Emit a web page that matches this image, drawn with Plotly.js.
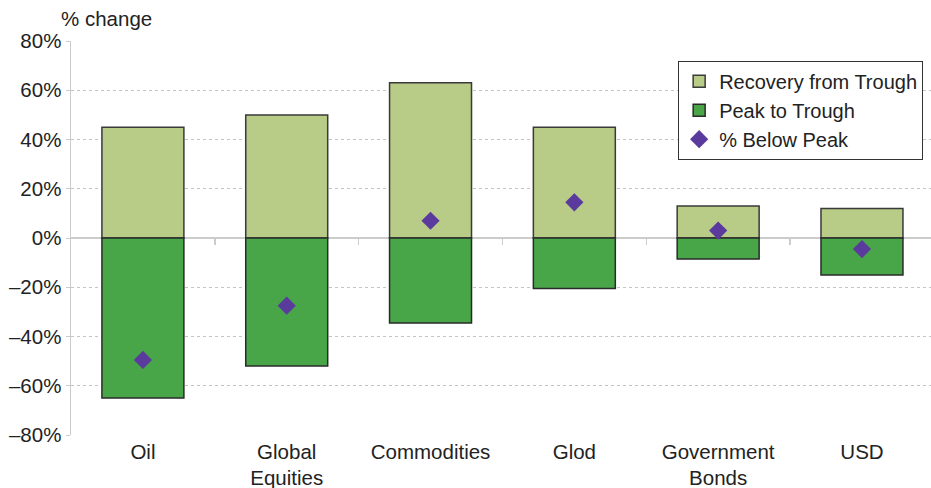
<!DOCTYPE html>
<html>
<head>
<meta charset="utf-8">
<script src="https://cdn.plot.ly/plotly-3.0.1.min.js"></script>
<style>html,body{margin:0;padding:0;background:#fff;}#chart{width:931px;height:488px;}</style>
</head>
<body>
<div id="chart"></div>
<script>
const categories = ["Oil", "Global<br>Equities", "Commodities", "Glod", "Government<br>Bonds", "USD"];
const recoveryFromTrough = [45, 50, 63, 45, 13, 12];
const peakToTrough = [-65, -52, -34.5, -20.5, -8.5, -15];
const belowPeak = [-49.5, -27.5, 7, 14.5, 3, -4.5];
const yTickVals = [-80, -60, -40, -20, 0, 20, 40, 60, 80];
const yTickText = ["\u201380%", "\u201360%", "\u201340%", "\u201320%", "0%", "20%", "40%", "60%", "80%"];
const boundaryTicks = [0.5, 1.5, 2.5, 3.5, 4.5];

const font = "Liberation Sans, Arial, Helvetica, sans-serif";
const idx = categories.map((c, i) => i);

const traces = [
  {
    type: "bar", name: "Recovery from Trough", x: idx, y: recoveryFromTrough,
    marker: {color: "#b8cb87", line: {color: "#3a3a3a", width: 1.5}}, width: 0.57
  },
  {
    type: "bar", name: "Peak to Trough", x: idx, y: peakToTrough,
    marker: {color: "#48a648", line: {color: "#2a2a2a", width: 1.5}}, width: 0.57
  },
  {
    type: "scatter", mode: "markers", name: "% Below Peak", x: idx, y: belowPeak,
    marker: {symbol: "diamond", size: 14, color: "#5b3a9e"}
  },
  {
    type: "scatter", mode: "markers", x: [0], y: [0], xaxis: "x2", showlegend: false,
    hoverinfo: "skip", marker: {opacity: 0}
  }
];

const layout = {
  width: 931, height: 488,
  margin: {l: 71, r: 0, t: 41, b: 53},
  paper_bgcolor: "#fff", plot_bgcolor: "#fff",
  font: {family: font, size: 20.5, color: "#222"},
  barmode: "relative",
  showlegend: true,
  legend: {
    x: 0.706, y: 0.95, xanchor: "left", yanchor: "top",
    bgcolor: "#fff", bordercolor: "#333", borderwidth: 1,
    font: {family: font, size: 20, color: "#222"},
    tracegroupgap: 0, itemwidth: 30
  },
  xaxis: {
    range: [-0.5, 5.48], tickvals: idx, ticktext: categories,
    showgrid: false, zeroline: false, showline: false, ticks: "",
    tickfont: {family: font, size: 20.5, color: "#222"}, ticklabelstandoff: 2
  },
  xaxis2: {
    overlaying: "x", anchor: "free", position: 0.5, side: "bottom",
    range: [-0.5, 5.48], tickvals: boundaryTicks, ticks: "outside", ticklen: 6,
    tickcolor: "#cccccc", tickwidth: 1.5, showticklabels: false, showgrid: false,
    zeroline: false, showline: false
  },
  yaxis: {
    range: [-80, 80], tickvals: yTickVals, ticktext: yTickText,
    showgrid: true, gridcolor: "#c4c4c4", griddash: "dot", gridwidth: 1,
    zeroline: true, zerolinecolor: "#cccccc", zerolinewidth: 1.5,
    showline: true, linecolor: "#cccccc", linewidth: 1.5,
    ticks: "outside", ticklen: 4, tickcolor: "#cccccc",
    tickfont: {family: font, size: 20.5, color: "#222"}
  },
  annotations: [
    {text: "% change", xref: "paper", yref: "paper", x: -0.0135, y: 1.0, yshift: 23,
     xanchor: "left", yanchor: "middle", showarrow: false,
     font: {family: font, size: 20.5, color: "#222"}}
  ]
};

Plotly.newPlot("chart", traces, layout, {displayModeBar: false, staticPlot: true});
</script>
</body>
</html>
